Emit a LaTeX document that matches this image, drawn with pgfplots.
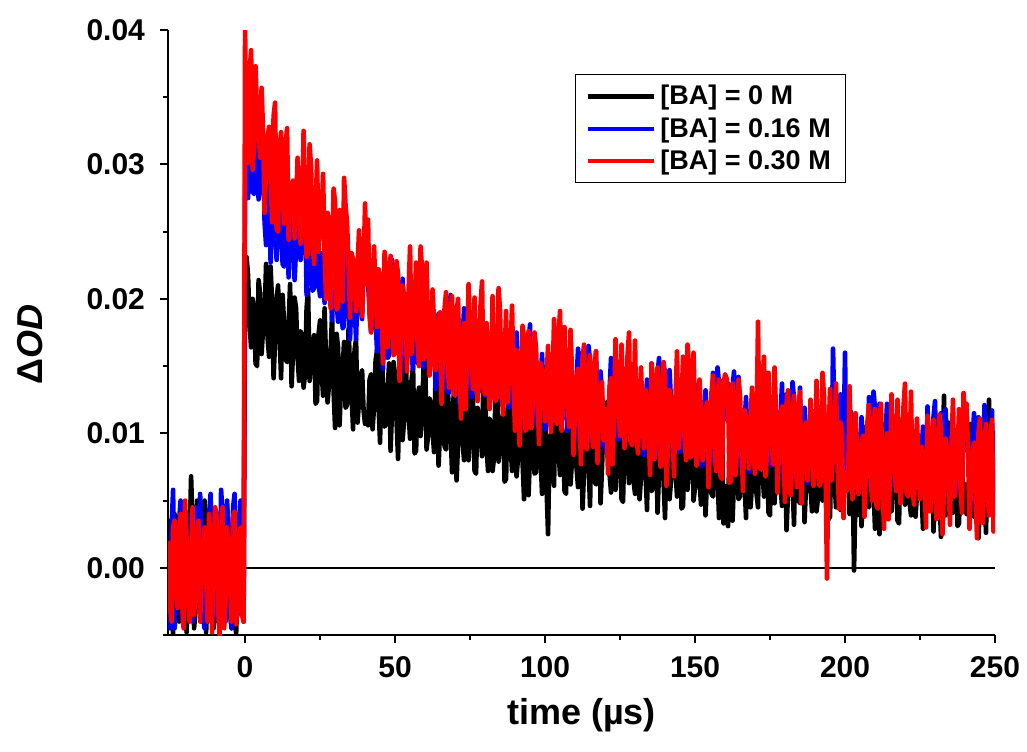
\documentclass[border=0pt]{standalone}
\usepackage{fontspec}
\setmainfont{Liberation Sans}
\usepackage{pgfplots}
\usepackage{pgfplotstable}
\pgfplotsset{compat=1.18}

\pgfplotstableread{
t b u r
-25.7 0.0010 -0.0030 0.0020
-25 0.0035 -0.0045 -0.0030
-24.5 -0.0010 0.0030 -0.0040
-24 -0.0050 0.0058 0.0030
-23.5 0.0040 -0.0045 0.0035
-23 0.0010 -0.0020 -0.0015
-22.5 -0.0030 0.0010 -0.0030
-22 -0.0040 0.0035 0.0028
-21.5 0.0005 0.0050 0.0040
-21 0.0025 -0.0038 -0.0025
-20.5 0.0035 -0.0042 -0.0045
-20 -0.0020 0.0015 0.0050
-19.5 -0.0048 0.0040 0.0020
-19 0.0012 -0.0030 -0.0020
-18.5 0.0020 -0.0015 -0.0040
-18 0.0068 0.0005 0.0010
-17.5 0.0030 -0.0040 0.0045
-17 -0.0045 0.0025 -0.0035
-16.5 -0.0030 0.0045 -0.0020
-16 0.0050 -0.0015 0.0025
-15.5 0.0010 -0.0025 0.0035
-15 -0.0020 0.0055 -0.0040
-14.5 -0.0040 0.0030 -0.0010
-14 0.0020 -0.0035 0.0015
-13.5 0.0050 -0.0045 0.0030
-13 -0.0048 0.0010 -0.0005
-12.5 -0.0020 -0.0010 -0.0040
-12 0.0030 0.0040 0.0040
-11.5 0.0015 0.0055 0.0015
-11 -0.0010 -0.0025 -0.0048
-10.5 -0.0045 -0.0035 0.0010
-10 0.0035 0.0012 0.0045
-9.5 0.0010 0.0030 0.0040
-9 -0.0040 -0.0040 -0.0030
-8.5 0.0040 -0.0020 -0.0050
-8 0.0015 0.0058 0.0020
-7.5 -0.0030 0.0040 0.0045
-7 -0.0025 -0.0010 -0.0045
-6.5 -0.0005 -0.0040 -0.0025
-6 0.0045 0.0050 0.0030
-5.5 0.0030 0.0020 0.0015
-5 -0.0035 -0.0030 -0.0010
-4.5 -0.0045 -0.0045 -0.0040
-4 0.0010 0.0045 0.0038
-3.5 0.0025 0.0055 0.0042
-3 -0.0050 -0.0020 -0.0042
-2.5 -0.0015 -0.0035 -0.0030
-2 0.0040 0.0030 0.0025
-1.5 0.0010 0.0050 0.0030
-1 -0.0030 -0.0025 -0.0035
-0.5 -0.0040 -0.0030 -0.0040
0 0.0220 0.0285 0.0400
0.5 0.0231 0.0287 0.0304
1 0.0217 0.0275 0.0301
1.5 0.0181 0.0315 0.0368
2 0.0164 0.0324 0.0385
2.5 0.0200 0.0280 0.0296
3 0.0193 0.0278 0.0313
3.5 0.0152 0.0327 0.0373
4 0.0150 0.0320 0.0336
4.5 0.0214 0.0274 0.0325
5 0.0204 0.0283 0.0305
5.5 0.0159 0.0307 0.0357
6 0.0178 0.0314 0.0324
6.5 0.0186 0.0257 0.0264
7 0.0226 0.0240 0.0297
7.5 0.0171 0.0274 0.0320
8 0.0157 0.0298 0.0328
8.5 0.0224 0.0227 0.0291
9 0.0197 0.0255 0.0257
9.5 0.0141 0.0295 0.0336
10 0.0169 0.0268 0.0346
10.5 0.0200 0.0229 0.0252
11 0.0210 0.0244 0.0250
11.5 0.0172 0.0297 0.0312
12 0.0141 0.0285 0.0324
12.5 0.0203 0.0226 0.0276
13 0.0182 0.0224 0.0256
13.5 0.0155 0.0257 0.0315
14 0.0153 0.0293 0.0327
14.5 0.0180 0.0216 0.0244
15 0.0211 0.0242 0.0281
15.5 0.0135 0.0270 0.0283
16 0.0162 0.0251 0.0288
16.5 0.0201 0.0214 0.0245
17 0.0193 0.0238 0.0268
17.5 0.0156 0.0257 0.0305
18 0.0139 0.0253 0.0280
18.5 0.0176 0.0229 0.0241
19 0.0172 0.0244 0.0253
19.5 0.0134 0.0265 0.0325
20 0.0144 0.0274 0.0277
20.5 0.0193 0.0203 0.0231
21 0.0207 0.0215 0.0234
21.5 0.0139 0.0252 0.0315
22 0.0156 0.0243 0.0298
22.5 0.0166 0.0206 0.0243
23 0.0173 0.0208 0.0226
23.5 0.0122 0.0248 0.0266
24 0.0124 0.0255 0.0303
24.5 0.0174 0.0211 0.0235
25 0.0184 0.0202 0.0255
25.5 0.0147 0.0234 0.0260
26 0.0128 0.0227 0.0293
26.5 0.0193 0.0197 0.0233
27 0.0153 0.0214 0.0200
27.5 0.0123 0.0255 0.0264
28 0.0137 0.0231 0.0256
28.5 0.0161 0.0212 0.0193
29 0.0188 0.0184 0.0227
29.5 0.0132 0.0225 0.0282
30 0.0104 0.0252 0.0272
30.5 0.0174 0.0198 0.0192
31 0.0164 0.0183 0.0194
31.5 0.0106 0.0239 0.0266
32 0.0137 0.0251 0.0254
32.5 0.0147 0.0178 0.0198
33 0.0168 0.0180 0.0290
33.5 0.0119 0.0247 0.0269
34 0.0121 0.0211 0.0257
34.5 0.0178 0.0196 0.0223
35 0.0147 0.0170 0.0186
35.5 0.0130 0.0207 0.0234
36 0.0103 0.0226 0.0229
36.5 0.0162 0.0194 0.0214
37 0.0170 0.0170 0.0191
37.5 0.0108 0.0209 0.0226
38 0.0125 0.0213 0.0251
38.5 0.0143 0.0200 0.0199
39 0.0147 0.0185 0.0187
39.5 0.0117 0.0230 0.0223
40 0.0107 0.0221 0.0271
40.5 0.0116 0.0221 0.0211
41 0.0106 0.0212 0.0259
41.5 0.0140 0.0191 0.0187
42 0.0144 0.0176 0.0175
42.5 0.0103 0.0200 0.0214
43 0.0120 0.0204 0.0239
43.5 0.0154 0.0185 0.0202
44 0.0162 0.0161 0.0179
44.5 0.0120 0.0198 0.0222
45 0.0093 0.0217 0.0217
45.5 0.0166 0.0174 0.0189
46 0.0135 0.0148 0.0152
46.5 0.0105 0.0225 0.0235
47 0.0107 0.0189 0.0223
47.5 0.0131 0.0156 0.0164
48 0.0152 0.0158 0.0184
48.5 0.0087 0.0217 0.0232
49 0.0118 0.0229 0.0220
49.5 0.0153 0.0176 0.0158
50 0.0143 0.0161 0.0160
50.5 0.0109 0.0185 0.0228
51 0.0081 0.0212 0.0218
51.5 0.0136 0.0172 0.0139
52 0.0163 0.0144 0.0173
52.5 0.0095 0.0215 0.0210
53 0.0109 0.0191 0.0202
53.5 0.0163 0.0157 0.0179
54 0.0123 0.0174 0.0146
54.5 0.0115 0.0194 0.0206
55 0.0096 0.0187 0.0239
55.5 0.0140 0.0157 0.0159
56 0.0150 0.0148 0.0179
56.5 0.0085 0.0194 0.0190
57 0.0087 0.0201 0.0227
57.5 0.0127 0.0152 0.0167
58 0.0134 0.0154 0.0150
58.5 0.0098 0.0198 0.0239
59 0.0115 0.0189 0.0222
59.5 0.0150 0.0149 0.0155
60 0.0164 0.0161 0.0158
60.5 0.0088 0.0184 0.0227
61 0.0098 0.0193 0.0179
61.5 0.0126 0.0148 0.0143
62 0.0122 0.0163 0.0155
62.5 0.0102 0.0176 0.0207
63 0.0086 0.0172 0.0182
63.5 0.0144 0.0133 0.0147
64 0.0138 0.0157 0.0170
64.5 0.0076 0.0189 0.0185
65 0.0102 0.0170 0.0190
65.5 0.0118 0.0122 0.0122
66 0.0149 0.0148 0.0159
66.5 0.0090 0.0163 0.0193
67 0.0088 0.0199 0.0205
67.5 0.0136 0.0132 0.0154
68 0.0115 0.0130 0.0134
68.5 0.0102 0.0203 0.0190
69 0.0071 0.0191 0.0202
69.5 0.0127 0.0135 0.0130
70 0.0137 0.0150 0.0128
70.5 0.0065 0.0190 0.0190
71 0.0093 0.0163 0.0200
71.5 0.0147 0.0122 0.0145
72 0.0120 0.0150 0.0111
72.5 0.0094 0.0169 0.0174
73 0.0080 0.0193 0.0182
73.5 0.0108 0.0152 0.0118
74 0.0148 0.0135 0.0151
74.5 0.0080 0.0165 0.0211
75 0.0099 0.0172 0.0178
75.5 0.0135 0.0127 0.0153
76 0.0125 0.0136 0.0133
76.5 0.0072 0.0180 0.0201
77 0.0070 0.0173 0.0164
77.5 0.0119 0.0133 0.0124
78 0.0112 0.0131 0.0141
78.5 0.0100 0.0168 0.0196
79 0.0083 0.0177 0.0213
79.5 0.0149 0.0140 0.0132
80 0.0135 0.0128 0.0129
80.5 0.0089 0.0158 0.0182
81 0.0072 0.0154 0.0157
81.5 0.0111 0.0130 0.0118
82 0.0107 0.0145 0.0130
82.5 0.0072 0.0166 0.0202
83 0.0082 0.0175 0.0154
83.5 0.0132 0.0124 0.0124
84 0.0146 0.0136 0.0127
84.5 0.0079 0.0173 0.0208
85 0.0096 0.0164 0.0191
85.5 0.0107 0.0123 0.0131
86 0.0114 0.0125 0.0114
86.5 0.0064 0.0165 0.0154
87 0.0066 0.0172 0.0191
87.5 0.0117 0.0128 0.0123
88 0.0127 0.0119 0.0143
88.5 0.0091 0.0159 0.0162
89 0.0072 0.0152 0.0195
89.5 0.0138 0.0122 0.0135
90 0.0098 0.0139 0.0102
90.5 0.0068 0.0175 0.0162
91 0.0082 0.0151 0.0154
91.5 0.0108 0.0132 0.0091
92 0.0135 0.0104 0.0125
92.5 0.0079 0.0145 0.0180
93 0.0051 0.0172 0.0170
93.5 0.0121 0.0128 0.0102
94 0.0112 0.0113 0.0104
94.5 0.0054 0.0169 0.0176
95 0.0085 0.0181 0.0164
95.5 0.0098 0.0105 0.0104
96 0.0118 0.0107 0.0124
96.5 0.0070 0.0174 0.0175
97 0.0071 0.0138 0.0163
97.5 0.0129 0.0123 0.0129
98 0.0098 0.0097 0.0092
98.5 0.0082 0.0140 0.0152
99 0.0055 0.0159 0.0147
99.5 0.0114 0.0127 0.0132
100 0.0122 0.0103 0.0109
100.5 0.0060 0.0138 0.0140
101 0.0025 0.0142 0.0165
101.5 0.0096 0.0129 0.0113
102 0.0100 0.0114 0.0101
102.5 0.0071 0.0159 0.0137
103 0.0061 0.0150 0.0185
103.5 0.0136 0.0120 0.0110
104 0.0122 0.0108 0.0107
104.5 0.0086 0.0148 0.0174
105 0.0069 0.0157 0.0191
105.5 0.0105 0.0113 0.0102
106 0.0098 0.0111 0.0119
106.5 0.0057 0.0160 0.0179
107 0.0055 0.0153 0.0142
107.5 0.0117 0.0102 0.0125
108 0.0107 0.0111 0.0105
108.5 0.0062 0.0135 0.0177
109 0.0081 0.0142 0.0144
109.5 0.0089 0.0122 0.0084
110 0.0129 0.0105 0.0117
110.5 0.0074 0.0139 0.0140
111 0.0060 0.0163 0.0148
111.5 0.0127 0.0092 0.0111
112 0.0100 0.0120 0.0077
112.5 0.0044 0.0160 0.0156
113 0.0072 0.0133 0.0166
113.5 0.0105 0.0101 0.0090
114 0.0115 0.0116 0.0088
114.5 0.0077 0.0165 0.0146
115 0.0046 0.0153 0.0158
115.5 0.0110 0.0094 0.0110
116 0.0089 0.0092 0.0090
116.5 0.0064 0.0125 0.0149
117 0.0062 0.0161 0.0161
117.5 0.0091 0.0084 0.0078
118 0.0122 0.0110 0.0115
118.5 0.0048 0.0146 0.0133
119 0.0075 0.0127 0.0138
119.5 0.0116 0.0090 0.0095
120 0.0108 0.0114 0.0118
120.5 0.0123 0.0085 0.0104
121 0.0096 0.0113 0.0070
121.5 0.0070 0.0132 0.0133
122 0.0056 0.0156 0.0141
122.5 0.0085 0.0115 0.0077
123 0.0125 0.0098 0.0110
123.5 0.0058 0.0128 0.0170
124 0.0077 0.0135 0.0137
124.5 0.0113 0.0095 0.0118
125 0.0103 0.0104 0.0098
125.5 0.0051 0.0148 0.0166
126 0.0049 0.0141 0.0129
126.5 0.0099 0.0101 0.0089
127 0.0092 0.0099 0.0106
127.5 0.0080 0.0133 0.0158
128 0.0063 0.0142 0.0175
128.5 0.0130 0.0105 0.0094
129 0.0116 0.0093 0.0091
129.5 0.0065 0.0144 0.0121
130 0.0055 0.0135 0.0169
130.5 0.0087 0.0114 0.0097
131 0.0091 0.0099 0.0085
131.5 0.0051 0.0123 0.0124
132 0.0068 0.0127 0.0149
132.5 0.0103 0.0108 0.0112
133 0.0111 0.0084 0.0089
133.5 0.0070 0.0121 0.0132
134 0.0043 0.0140 0.0127
134.5 0.0117 0.0101 0.0106
135 0.0086 0.0075 0.0069
135.5 0.0057 0.0152 0.0152
136 0.0059 0.0116 0.0140
136.5 0.0084 0.0083 0.0081
137 0.0105 0.0085 0.0101
137.5 0.0041 0.0144 0.0149
138 0.0072 0.0156 0.0137
138.5 0.0108 0.0103 0.0075
139 0.0098 0.0088 0.0077
139.5 0.0065 0.0120 0.0153
140 0.0037 0.0147 0.0143
140.5 0.0091 0.0104 0.0061
141 0.0118 0.0076 0.0095
141.5 0.0051 0.0147 0.0132
142 0.0065 0.0123 0.0124
142.5 0.0120 0.0089 0.0101
143 0.0080 0.0106 0.0068
143.5 0.0072 0.0126 0.0128
144 0.0053 0.0119 0.0161
144.5 0.0098 0.0095 0.0089
145 0.0108 0.0086 0.0109
145.5 0.0044 0.0132 0.0120
146 0.0046 0.0139 0.0157
146.5 0.0087 0.0090 0.0097
147 0.0094 0.0092 0.0080
147.5 0.0058 0.0134 0.0166
148 0.0075 0.0125 0.0149
148.5 0.0111 0.0085 0.0082
149 0.0125 0.0097 0.0085
149.5 0.0050 0.0127 0.0160
150 0.0060 0.0136 0.0112
150.5 0.0087 0.0091 0.0076
151 0.0083 0.0106 0.0088
151.5 0.0064 0.0119 0.0140
152 0.0047 0.0115 0.0115
152.5 0.0107 0.0076 0.0080
153 0.0099 0.0100 0.0103
153.5 0.0039 0.0132 0.0118
154 0.0066 0.0113 0.0123
154.5 0.0082 0.0068 0.0060
155 0.0113 0.0094 0.0097
155.5 0.0055 0.0109 0.0131
156 0.0053 0.0145 0.0143
156.5 0.0101 0.0078 0.0092
157 0.0080 0.0076 0.0072
157.5 0.0068 0.0149 0.0128
158 0.0037 0.0137 0.0140
158.5 0.0094 0.0081 0.0068
159 0.0104 0.0096 0.0066
159.5 0.0033 0.0140 0.0134
160 0.0061 0.0113 0.0144
160.5 0.0059 0.0110 0.0141
161 0.0031 0.0137 0.0131
161.5 0.0102 0.0093 0.0063
162 0.0092 0.0078 0.0065
162.5 0.0035 0.0134 0.0137
163 0.0066 0.0146 0.0125
163.5 0.0078 0.0073 0.0069
164 0.0099 0.0075 0.0089
164.5 0.0051 0.0142 0.0140
165 0.0053 0.0106 0.0128
165.5 0.0111 0.0091 0.0094
166 0.0080 0.0065 0.0057
166.5 0.0064 0.0108 0.0117
167 0.0037 0.0127 0.0112
167.5 0.0097 0.0095 0.0097
168 0.0105 0.0071 0.0074
168.5 0.0045 0.0110 0.0109
169 0.0062 0.0114 0.0134
169.5 0.0081 0.0101 0.0082
170 0.0085 0.0086 0.0070
170.5 0.0055 0.0128 0.0103
171 0.0045 0.0119 0.0183
171.5 0.0120 0.0089 0.0076
172 0.0106 0.0077 0.0073
172.5 0.0070 0.0117 0.0140
173 0.0053 0.0126 0.0157
173.5 0.0089 0.0082 0.0068
174 0.0082 0.0080 0.0085
174.5 0.0041 0.0129 0.0145
175 0.0039 0.0122 0.0108
175.5 0.0103 0.0076 0.0097
176 0.0093 0.0085 0.0077
176.5 0.0048 0.0109 0.0149
177 0.0067 0.0116 0.0116
177.5 0.0075 0.0096 0.0056
178 0.0115 0.0079 0.0089
178.5 0.0060 0.0113 0.0112
179 0.0046 0.0137 0.0120
179.5 0.0113 0.0066 0.0083
180 0.0086 0.0094 0.0049
180.5 0.0028 0.0129 0.0122
181 0.0056 0.0102 0.0132
181.5 0.0089 0.0070 0.0056
182 0.0099 0.0085 0.0054
182.5 0.0063 0.0138 0.0116
183 0.0032 0.0126 0.0128
183.5 0.0096 0.0067 0.0080
184 0.0075 0.0065 0.0060
184.5 0.0050 0.0098 0.0119
185 0.0048 0.0134 0.0131
185.5 0.0077 0.0057 0.0048
186 0.0108 0.0083 0.0085
186.5 0.0034 0.0119 0.0103
187 0.0061 0.0100 0.0108
187.5 0.0102 0.0063 0.0065
188 0.0094 0.0087 0.0088
188.5 0.0059 0.0106 0.0125
189 0.0042 0.0102 0.0100
189.5 0.0082 0.0078 0.0061
190 0.0078 0.0093 0.0073
190.5 0.0042 0.0111 0.0139
191 0.0052 0.0120 0.0091
191.5 0.0103 0.0069 0.0061
192 0.0117 0.0081 0.0064
192.5 0.0050 0.0118 0.0145
193 0.0067 0.0109 0.0128
193.5 0.0079 0.0072 0.0073
194 0.0086 0.0074 -0.0008
194.5 0.0036 0.0114 0.0096
195 0.0038 0.0121 0.0133
195.5 0.0090 0.0077 0.0065
196 0.0100 0.0163 0.0085
196.5 0.0064 0.0108 0.0104
197 0.0045 0.0101 0.0137
197.5 0.0112 0.0071 0.0077
198 0.0072 0.0088 0.0044
198.5 0.0043 0.0129 0.0108
199 0.0057 0.0105 0.0100
199.5 0.0083 0.0086 0.0037
200 0.0110 0.0160 0.0071
200.5 0.0101 0.0065 0.0057
201 0.0115 0.0077 0.0060
201.5 0.0040 0.0107 0.0135
202 0.0050 0.0116 0.0087
202.5 0.0079 0.0071 0.0051
203 -0.0002 0.0086 0.0063
203.5 0.0056 0.0099 0.0115
204 0.0039 0.0095 0.0090
204.5 0.0099 0.0056 0.0055
205 0.0091 0.0080 0.0078
205.5 0.0031 0.0112 0.0093
206 0.0058 0.0093 0.0098
206.5 0.0074 0.0050 0.0038
207 0.0105 0.0076 0.0075
207.5 0.0047 0.0091 0.0109
208 0.0045 0.0127 0.0121
208.5 0.0093 0.0060 0.0070
209 0.0072 0.0058 0.0050
209.5 0.0060 0.0131 0.0106
210 0.0029 0.0119 0.0118
210.5 0.0086 0.0063 0.0046
211 0.0096 0.0078 0.0044
211.5 0.0025 0.0122 0.0112
212 0.0053 0.0095 0.0122
212.5 0.0107 0.0051 0.0063
213 0.0080 0.0079 0.0029
213.5 0.0054 0.0098 0.0092
214 0.0040 0.0122 0.0100
214.5 0.0069 0.0081 0.0036
215 0.0109 0.0064 0.0069
215.5 0.0042 0.0094 0.0129
216 0.0061 0.0101 0.0096
216.5 0.0097 0.0061 0.0077
217 0.0087 0.0070 0.0057
217.5 0.0035 0.0114 0.0125
218 0.0033 0.0107 0.0088
218.5 0.0083 0.0067 0.0048
219 0.0076 0.0065 0.0065
219.5 0.0064 0.0102 0.0120
220 0.0047 0.0111 0.0137
220.5 0.0114 0.0074 0.0056
221 0.0100 0.0062 0.0053
221.5 0.0049 0.0113 0.0083
222 0.0039 0.0104 0.0131
222.5 0.0074 0.0083 0.0059
223 0.0078 0.0068 0.0047
223.5 0.0038 0.0092 0.0086
224 0.0055 0.0096 0.0111
224.5 0.0090 0.0077 0.0074
225 0.0098 0.0053 0.0051
225.5 0.0056 0.0086 0.0090
226 0.0029 0.0105 0.0085
226.5 0.0103 0.0069 0.0067
227 0.0072 0.0043 0.0030
227.5 0.0043 0.0120 0.0113
228 0.0045 0.0084 0.0101
228.5 0.0070 0.0051 0.0042
229 0.0091 0.0053 0.0062
229.5 0.0027 0.0112 0.0110
230 0.0058 0.0124 0.0098
230.5 0.0094 0.0071 0.0036
231 0.0084 0.0056 0.0038
231.5 0.0051 0.0088 0.0114
232 0.0023 0.0115 0.0104
232.5 0.0079 0.0075 0.0025
233 0.0128 0.0047 0.0059
233.5 0.0039 0.0118 0.0096
234 0.0053 0.0094 0.0088
234.5 0.0108 0.0060 0.0065
235 0.0068 0.0077 0.0032
235.5 0.0060 0.0097 0.0092
236 0.0041 0.0090 0.0125
236.5 0.0086 0.0066 0.0053
237 0.0096 0.0057 0.0073
237.5 0.0031 0.0100 0.0081
238 0.0033 0.0107 0.0118
238.5 0.0074 0.0058 0.0058
239 0.0081 0.0060 0.0041
239.5 0.0045 0.0104 0.0130
240 0.0062 0.0095 0.0113
240.5 0.0040 0.0087 0.0122
241 0.0059 0.0094 0.0089
241.5 0.0067 0.0074 0.0029
242 0.0107 0.0057 0.0062
242.5 0.0052 0.0091 0.0085
243 0.0038 0.0115 0.0093
243.5 0.0105 0.0044 0.0056
244 0.0078 0.0072 0.0022
244.5 0.0022 0.0112 0.0101
245 0.0050 0.0085 0.0111
245.5 0.0083 0.0053 0.0035
246 0.0093 0.0068 0.0033
246.5 0.0057 0.0121 0.0095
247 0.0026 0.0109 0.0107
247.5 0.0090 0.0050 0.0059
248 0.0125 0.0048 0.0039
248.5 0.0044 0.0081 0.0098
249 0.0042 0.0117 0.0110
249.5 0.0071 0.0040 0.0027
250 0.0102 0.0066 0.0064
}\datatable

\begin{document}
\begin{tikzpicture}
\useasboundingbox (-84pt,-58pt) rectangle (429.5pt,317.5pt);
\begin{axis}[
  at={(0pt,0pt)}, anchor=south west,
  scale only axis, width=413.5pt, height=302.5pt,
  xmin=-25.7, xmax=250, ymin=-0.005, ymax=0.04,
  axis lines*=left,
  axis line style={line width=1pt},
  every tick/.style={black, line width=1pt},
  tick align=outside,
  major tick length=4pt, minor tick length=2.5pt,
  xtick={0,50,100,150,200,250},
  minor xtick={25,75,125,175,225},
  ytick={0,0.01,0.02,0.03,0.04},
  minor ytick={-0.005,0.005,0.015,0.025,0.035},
  /pgf/number format/assume math mode=true,
  y tick label style={/pgf/number format/fixed, /pgf/number format/fixed zerofill, /pgf/number format/precision=2, xshift=-4pt},
  scaled y ticks=false,
  tick label style={font=\fontsize{15}{18}\selectfont\bfseries},
  x tick label style={yshift=-3pt},
  xlabel={time (µs)},
  ylabel={Δ\textit{OD}},
  xlabel style={font=\fontsize{18}{22}\selectfont\bfseries, at={(axis description cs:0.5,-0.133)}, anchor=center},
  ylabel style={font=\fontsize{18}{22}\selectfont\bfseries, at={(axis description cs:-0.167,0.48)}, anchor=center},
  clip=true,
  legend style={at={(rel axis cs:0.492,0.927)}, anchor=north west, draw=black, line width=0.6pt,
    font=\fontsize{13.5}{16}\selectfont\bfseries, inner xsep=5pt, inner ysep=3pt, row sep=0.5pt,
    nodes={inner sep=2.2pt}},
  legend cell align=left,
  legend image code/.code={\draw[#1] (0pt,0pt) -- (33pt,0pt);},
]
\addplot[black, line width=0.75pt, forget plot] coordinates {(-25.7,0) (250,0)};
\addplot[black, line width=2.3pt, line join=round] table[x=t, y=b] {\datatable};
\addlegendentry{{[BA] = 0 M}}
\addplot[blue, line width=2.3pt, line join=round] table[x=t, y=u] {\datatable};
\addlegendentry{{[BA] = 0.16 M}}
\addplot[red, line width=2.3pt, line join=round] table[x=t, y=r] {\datatable};
\addlegendentry{{[BA] = 0.30 M}}
\end{axis}
\end{tikzpicture}
\end{document}
